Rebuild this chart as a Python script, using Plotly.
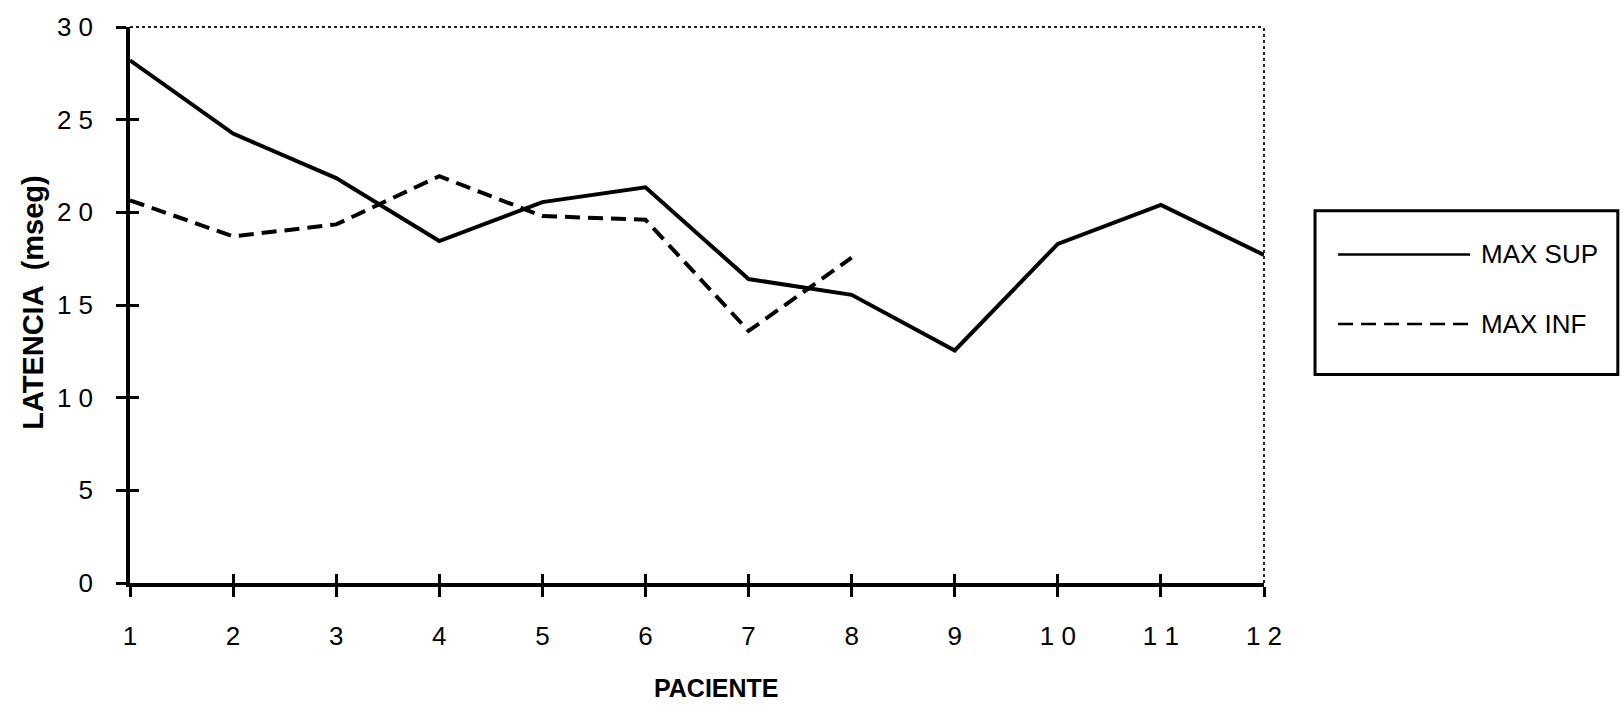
import plotly.graph_objects as go

# ---- data ----
pacientes = [1, 2, 3, 4, 5, 6, 7, 8, 9, 10, 11, 12]
max_sup = [28.2, 24.25, 21.85, 18.45, 20.55, 21.35, 16.4, 15.55, 12.55, 18.3, 20.4, 17.7]
pac_inf = [1, 2, 3, 4, 5, 6, 7, 8]
max_inf = [20.65, 18.7, 19.35, 21.95, 19.8, 19.6, 13.6, 17.55]

y_ticks = [0, 5, 10, 15, 20, 25, 30]
y_ticktext = ["0", "5", "1 0", "1 5", "2 0", "2 5", "3 0"]
x_ticktext = ["1", "2", "3", "4", "5", "6", "7", "8", "9", "1 0", "1 1", "1 2"]

series_names = ["MAX SUP", "MAX INF"]

FONT = "Liberation Sans, Arial, sans-serif"
NARROW = "Liberation Sans Narrow, Arial Narrow, Liberation Sans, Arial, sans-serif"
LW = 4
DASH = "15px,8px"

fig = go.Figure()
fig.add_trace(go.Scatter(x=pacientes, y=max_sup, mode="lines", name=series_names[0],
                         line=dict(color="black", width=LW), showlegend=False))
fig.add_trace(go.Scatter(x=pac_inf, y=max_inf, mode="lines", name=series_names[1],
                         line=dict(color="black", width=LW, dash=DASH), showlegend=False))
# helper trace for overlay axes (inner half of crossing ticks)
fig.add_trace(go.Scatter(x=[None], y=[None], xaxis="x2", yaxis="y2", showlegend=False,
                         hoverinfo="skip"))

axis_common = dict(showgrid=False, zeroline=False, color="black")
fig.update_layout(
    width=1623, height=705,
    margin=dict(l=130, r=359, t=23, b=122),
    paper_bgcolor="white", plot_bgcolor="white",
    font=dict(family=FONT, color="black"),
    xaxis=dict(range=[1, 12], tickvals=pacientes, ticktext=x_ticktext,
               ticks="outside", ticklen=10, tickwidth=3, tickcolor="black",
               showline=True, linewidth=3.5, linecolor="black",
               tickfont=dict(size=26, family=FONT), ticklabelstandoff=17,
               **axis_common),
    yaxis=dict(range=[0, 30], tickvals=y_ticks, ticktext=y_ticktext,
               ticks="outside", ticklen=10, tickwidth=3, tickcolor="black",
               showline=True, linewidth=3.5, linecolor="black",
               tickfont=dict(size=26, family=FONT), ticklabelstandoff=18,
               **axis_common),
    xaxis2=dict(range=[1, 12], overlaying="x", side="bottom", tickvals=pacientes,
                ticks="inside", ticklen=9, tickwidth=3, tickcolor="black",
                showticklabels=False, showline=False, **axis_common),
    yaxis2=dict(range=[0, 30], overlaying="y", side="left", tickvals=y_ticks,
                ticks="inside", ticklen=9, tickwidth=3, tickcolor="black",
                showticklabels=False, showline=False, **axis_common),
)

# dotted top and right frame lines
fig.add_shape(type="line", xref="paper", yref="paper", x0=0, x1=1, y0=1, y1=1,
              line=dict(color="#222", width=2, dash="dot"))
fig.add_shape(type="line", xref="paper", yref="paper", x0=1, x1=1, y0=0, y1=1,
              line=dict(color="#222", width=2, dash="dot"))

# axis titles
fig.add_annotation(text="<b>PACIENTE</b>", xref="paper", yref="paper", x=0.517, y=-0.188,
                   showarrow=False, font=dict(size=25, family=NARROW), yanchor="middle")
fig.add_annotation(text="<b>LATENCIA  (mseg)</b>", xref="paper", yref="paper", x=-0.085,
                   y=0.505, showarrow=False, textangle=-90, font=dict(size=29, family=FONT),
                   xanchor="center", yanchor="middle")

# legend box
fig.add_shape(type="rect", xref="paper", yref="paper", x0=1.045, x1=1.312,
              y0=0.375, y1=0.6696, line=dict(color="black", width=3))
legend_y = [0.591, 0.466]
legend_dash = ["solid", DASH]
for name, ly, dsh in zip(series_names, legend_y, legend_dash):
    fig.add_shape(type="line", xref="paper", yref="paper", x0=1.0653, x1=1.1817,
                  y0=ly, y1=ly, line=dict(color="black", width=2.5, dash=dsh))
    fig.add_annotation(text=name, xref="paper", yref="paper", x=1.1896, y=ly,
                       xanchor="left", yanchor="middle", showarrow=False,
                       font=dict(size=26, family=NARROW))

fig.write_html("out.html")
